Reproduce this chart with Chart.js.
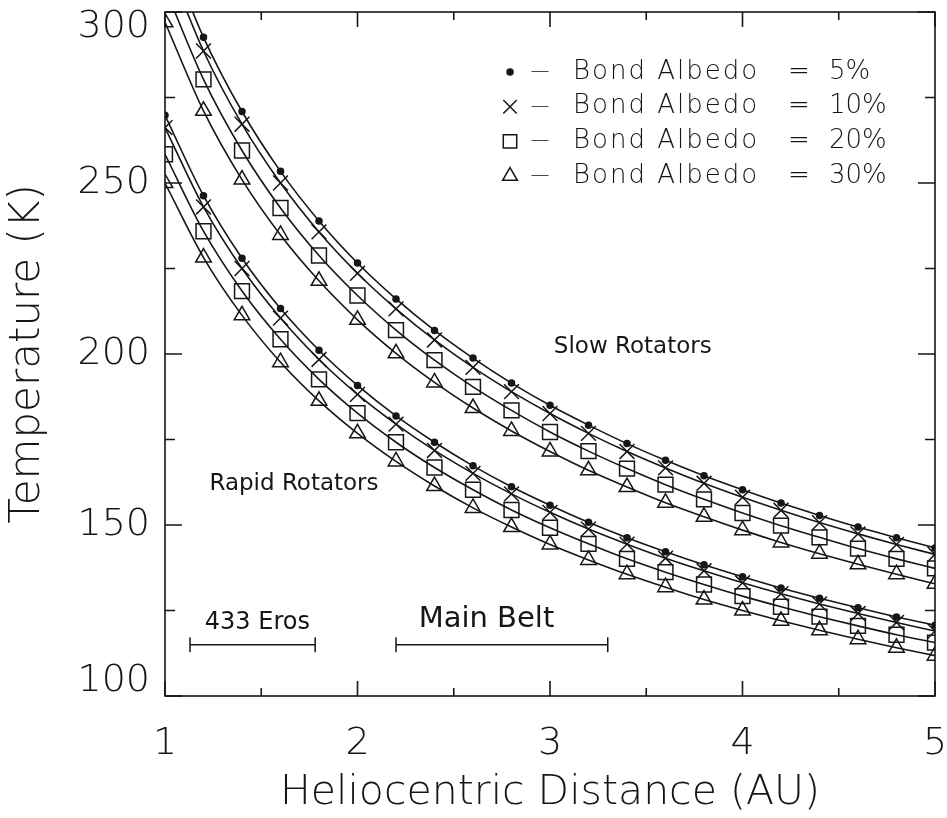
<!DOCTYPE html>
<html>
<head>
<meta charset="utf-8">
<title>Asteroid temperature vs heliocentric distance</title>
<script src="https://cdn.jsdelivr.net/npm/chart.js@4.4.1/dist/chart.umd.min.js"></script>
<style>
  html, body { margin: 0; padding: 0; background: #fff; }
</style>
</head>
<body>
<canvas id="tempChart" width="947" height="818"></canvas>
<script>
// heliocentric distance (AU) of each plotted point
const distance = [1.0, 1.2, 1.4, 1.6, 1.8, 2.0, 2.2, 2.4, 2.6, 2.8, 3.0,
                  3.2, 3.4, 3.6, 3.8, 4.0, 4.2, 4.4, 4.6, 4.8, 5.0];

// slow rotators, temperature (K)
const slowA05 = [320.5, 292.6, 270.9, 253.4, 238.9, 226.6, 216.1, 206.9, 198.8, 191.5, 185.0,
                 179.2, 173.8, 168.9, 164.4, 160.3, 156.4, 152.8, 149.4, 146.3, 143.3];
const slowA10 = [316.2, 288.6, 267.2, 250.0, 235.7, 223.6, 213.2, 204.1, 196.1, 189.0, 182.6,
                 176.8, 171.5, 166.7, 162.2, 158.1, 154.3, 150.7, 147.4, 144.3, 141.4];
const slowA20 = [307.0, 280.3, 259.5, 242.7, 228.8, 217.1, 207.0, 198.2, 190.4, 183.5, 177.2,
                 171.6, 166.5, 161.8, 157.5, 153.5, 149.8, 146.4, 143.1, 140.1, 137.3];
const slowA30 = [297.0, 271.1, 251.0, 234.8, 221.4, 210.0, 200.2, 191.7, 184.2, 177.5, 171.5,
                 166.0, 161.1, 156.5, 152.4, 148.5, 144.9, 141.6, 138.5, 135.6, 132.8];

// rapid rotators, temperature (K)
const rapidA05 = [269.8, 246.3, 228.0, 213.3, 201.1, 190.8, 181.9, 174.2, 167.3, 161.2, 155.8,
                  150.8, 146.3, 142.2, 138.4, 134.9, 131.6, 128.6, 125.8, 123.1, 120.7];
const rapidA10 = [266.2, 243.0, 225.0, 210.5, 198.4, 188.2, 179.5, 171.8, 165.1, 159.1, 153.7,
                  148.8, 144.4, 140.3, 136.6, 133.1, 129.9, 126.9, 124.1, 121.5, 119.0];
const rapidA20 = [258.4, 235.9, 218.4, 204.3, 192.6, 182.7, 174.2, 166.8, 160.3, 154.4, 149.2,
                  144.5, 140.1, 136.2, 132.6, 129.2, 126.1, 123.2, 120.5, 117.9, 115.6];
const rapidA30 = [250.0, 228.2, 211.3, 197.6, 186.3, 176.8, 168.6, 161.4, 155.0, 149.4, 144.3,
                  139.8, 135.6, 131.8, 128.2, 125.0, 122.0, 119.2, 116.6, 114.1, 111.8];

const albedoLabels = ['5%', '10%', '20%', '30%'];

// orbital ranges marked near the bottom
const erosRange = [1.13, 1.78];
const beltRange = [2.2, 3.3];
const rangeTemp = 115;

// text notes placed in data coordinates
const noteText = ['Slow Rotators', 'Rapid Rotators', '433 Eros', 'Main Belt'];
const noteX = [3.43, 1.67, 1.48, 2.67];
const noteY = [202, 162, 121.5, 122.5];
const noteSize = [23, 23, 24, 29];

const INK = '#161616';
const markerStyle = ['circle', 'crossRot', 'rect', 'triangle'];
const markerRadius = [3, 10.5, 10.5, 9];
const keyRadius = [3, 9.5, 9.5, 8.5];

Chart.defaults.font.family = '"DejaVu Sans", sans-serif';
Chart.defaults.color = INK;

function curve(values, k, group) {
  return {
    label: group + ' ' + albedoLabels[k],
    data: distance.map((d, i) => ({ x: d, y: values[i] })),
    borderColor: INK,
    borderWidth: 1.6,
    cubicInterpolationMode: 'monotone',
    pointStyle: markerStyle[k],
    pointRadius: markerRadius[k],
    pointHoverRadius: markerRadius[k],
    pointBorderColor: INK,
    pointBorderWidth: 1.5,
    pointBackgroundColor: k === 0 ? INK : 'rgba(0,0,0,0)'
  };
}

function rangeBar(range, name) {
  return {
    label: name,
    data: range.map(d => ({ x: d, y: rangeTemp })),
    borderColor: INK,
    borderWidth: 1.5,
    pointStyle: 'line',
    pointRotation: 90,
    pointRadius: 7.5,
    pointHoverRadius: 7.5,
    pointBorderColor: INK,
    pointBorderWidth: 1.5
  };
}

// box around the plot with inward ticks on all four sides
const frameTicks = {
  id: 'frameTicks',
  afterDraw(chart) {
    const { ctx, chartArea: a, scales: { x, y } } = chart;
    ctx.save();
    ctx.strokeStyle = INK;
    ctx.lineWidth = 1.6;
    ctx.strokeRect(a.left, a.top, a.right - a.left, a.bottom - a.top);
    ctx.beginPath();
    x.ticks.forEach(t => {
      const px = x.getPixelForValue(t.value);
      const len = Number.isInteger(t.value) ? 15 : 8;
      ctx.moveTo(px, a.bottom); ctx.lineTo(px, a.bottom - len);
      ctx.moveTo(px, a.top); ctx.lineTo(px, a.top + len);
    });
    y.ticks.forEach(t => {
      const py = y.getPixelForValue(t.value);
      const len = t.value % 50 === 0 ? 17 : 10;
      ctx.moveTo(a.left, py); ctx.lineTo(a.left + len, py);
      ctx.moveTo(a.right, py); ctx.lineTo(a.right - len, py);
    });
    ctx.stroke();
    ctx.restore();
  }
};

// symbol key in the upper right corner
const albedoKey = {
  id: 'albedoKey',
  afterDatasetsDraw(chart) {
    const { ctx, chartArea: a } = chart;
    ctx.save();
    ctx.strokeStyle = INK;
    ctx.lineWidth = 1.5;
    ctx.textBaseline = 'middle';
    albedoLabels.forEach((lab, k) => {
      const yy = a.top + 60 + k * 34.7;
      ctx.fillStyle = k === 0 ? INK : 'rgba(0,0,0,0)';
      Chart.helpers.drawPoint(ctx, {
        pointStyle: markerStyle[k], radius: keyRadius[k], borderWidth: 1.5, rotation: 0
      }, a.right - 425, yy);
      ctx.fillStyle = INK;
      ctx.letterSpacing = '0px';
      ctx.textAlign = 'center';
      ctx.font = '300 19px "DejaVu Sans"';
      ctx.fillText('\u2014', a.right - 395, yy);
      ctx.textAlign = 'left';
      ctx.font = '300 26px "DejaVu Sans"';
      ctx.letterSpacing = '2px';
      ctx.fillText('Bond Albedo', a.right - 362, yy);
      ctx.letterSpacing = '0px';
      ctx.fillText('=', a.right - 147, yy);
      ctx.fillText(lab, a.right - 106, yy);
    });
    ctx.restore();
  }
};

const notes = {
  id: 'notes',
  afterDatasetsDraw(chart) {
    const { ctx, scales: { x, y } } = chart;
    ctx.save();
    ctx.fillStyle = INK;
    ctx.textAlign = 'center';
    ctx.textBaseline = 'middle';
    noteText.forEach((txt, i) => {
      ctx.font = noteSize[i] + 'px "DejaVu Sans"';
      ctx.fillText(txt, x.getPixelForValue(noteX[i]), y.getPixelForValue(noteY[i]));
    });
    ctx.restore();
  }
};

new Chart(document.getElementById('tempChart'), {
  type: 'line',
  data: {
    datasets: [
      curve(slowA05, 0, 'Slow'), curve(slowA10, 1, 'Slow'),
      curve(slowA20, 2, 'Slow'), curve(slowA30, 3, 'Slow'),
      curve(rapidA05, 0, 'Rapid'), curve(rapidA10, 1, 'Rapid'),
      curve(rapidA20, 2, 'Rapid'), curve(rapidA30, 3, 'Rapid'),
      rangeBar(erosRange, '433 Eros'), rangeBar(beltRange, 'Main Belt')
    ]
  },
  options: {
    responsive: false,
    animation: false,
    events: [],
    layout: { padding: { top: 6, right: 8, left: 0, bottom: 0 } },
    plugins: { legend: { display: false }, tooltip: { enabled: false } },
    scales: {
      x: {
        type: 'linear',
        min: 1, max: 5,
        grid: { display: false, drawTicks: false },
        border: { display: false },
        ticks: {
          stepSize: 0.5,
          autoSkip: false,
          maxRotation: 0,
          padding: 25,
          font: { size: 38, weight: 300 },
          callback: v => Number.isInteger(v) ? String(v) : ''
        },
        title: {
          display: true,
          text: 'Heliocentric Distance (AU)',
          font: { size: 41, weight: 300 },
          padding: { top: 0, bottom: 0 }
        },
        afterFit(scale) {
          scale.height = 122;
          scale.paddingLeft = 0;
          scale.paddingRight = 0;
        }
      },
      y: {
        min: 100, max: 300,
        grid: { display: false, drawTicks: false },
        border: { display: false },
        ticks: {
          stepSize: 25,
          autoSkip: false,
          padding: 15,
          font: { size: 38, weight: 300, lineHeight: 0.8 },
          callback: v => {
            if (v % 50) return '';
            if (v === 300) return ['', '300'];
            if (v === 100) return ['100', ''];
            return String(v);
          }
        },
        title: {
          display: true,
          text: 'Temperature (K)',
          font: { size: 42, weight: 300 },
          padding: { top: 3, bottom: 0 }
        },
        afterFit(scale) {
          scale.width = 165;
          scale.paddingTop = 0;
          scale.paddingBottom = 0;
        }
      }
    }
  },
  plugins: [frameTicks, albedoKey, notes]
});
</script>
</body>
</html>
